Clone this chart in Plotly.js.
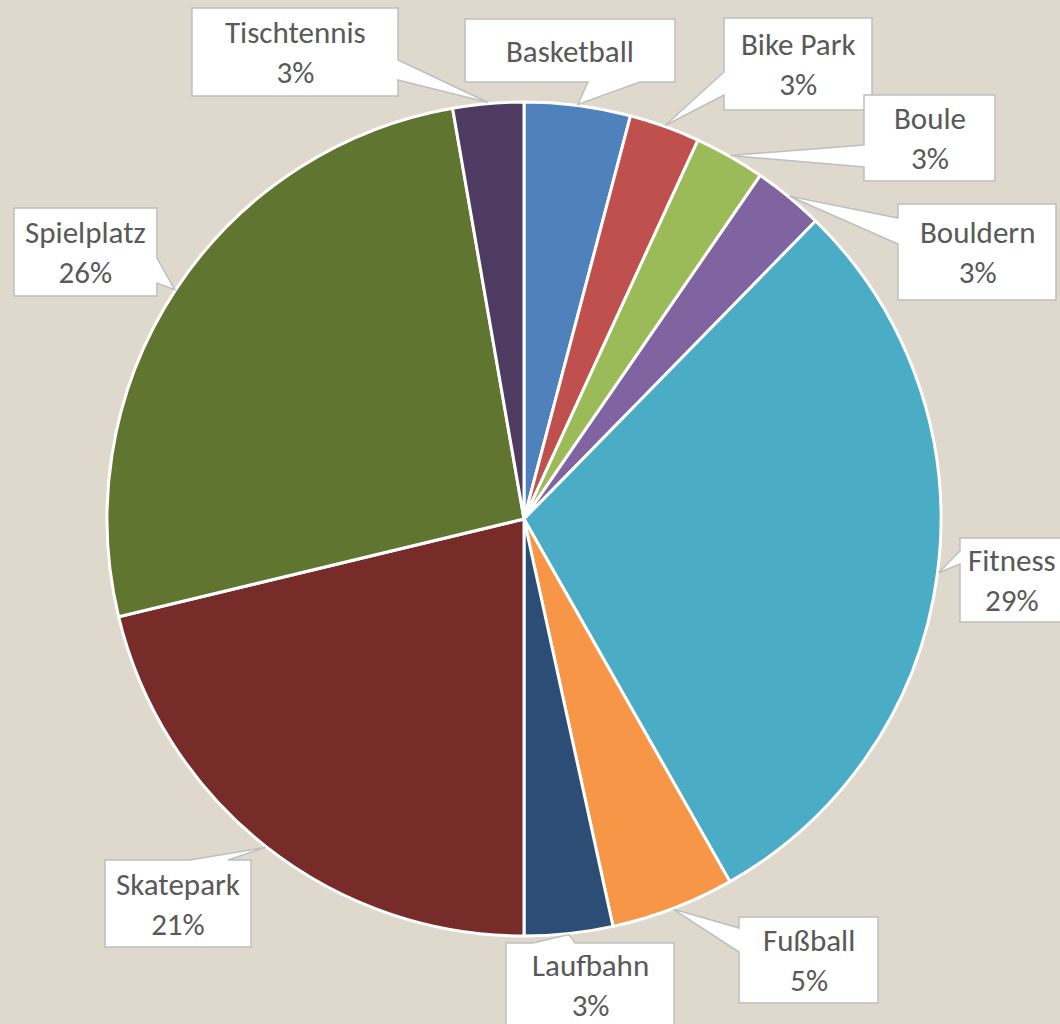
<!DOCTYPE html>
<html>
<head>
<meta charset="utf-8">
<script src="https://cdn.plot.ly/plotly-3.0.1.min.js"></script>
<style>
  html, body { margin: 0; padding: 0; background: #DFD8CC; }
  #chart { width: 1060px; height: 1024px; }
</style>
</head>
<body>
<div id="chart"></div>
<script>
// ---- data ----
const categories = ['Basketball', 'Bike Park', 'Boule', 'Bouldern', 'Fitness', 'Fußball', 'Laufbahn', 'Skatepark', 'Spielplatz', 'Tischtennis'];
const counts = [6, 4, 4, 4, 43, 7, 5, 31, 38, 4];
const showPercent = [false, true, true, true, true, true, true, true, true, true];
const sliceColors = ['#4F81BD', '#C0504D', '#9BBB59', '#8064A2', '#4BACC6', '#F79646', '#2C4D75', '#772C2A', '#5F7530', '#4D3B62'];

// ---- layout geometry (pixels) ----
const W = 1060, H = 1024;
const CX = 524, CY = 519, R = 417;
const px = x => x / W;
const py = y => 1 - y / H;

// label boxes: x0,x1,y0,y1, side where the pointer leaves, pointer base a..c
const boxes = [
  {x0: 465, x1: 675, y0: 19,  y1: 82,   side: 'bottom', a: 588, c: 640},
  {x0: 724, x1: 872, y0: 18,  y1: 110,  side: 'left',   a: 72,  c: 95},
  {x0: 864, x1: 995, y0: 95,  y1: 181,  side: 'left',   a: 145, c: 167},
  {x0: 898, x1: 1056, y0: 204, y1: 300, side: 'left',   a: 218, c: 244},
  {x0: 960, x1: 1075, y0: 538, y1: 622, side: 'left',   a: 551, c: 564},
  {x0: 739, x1: 878, y0: 917, y1: 1003, side: 'left',   a: 928, c: 952},
  {x0: 506, x1: 674, y0: 943, y1: 1026, side: 'top',    a: 533, c: 575},
  {x0: 105, x1: 251, y0: 860, y1: 947,  side: 'top',    a: 190, c: 228},
  {x0: 14,  x1: 157, y0: 208, y1: 296,  side: 'right',  a: 258, c: 283},
  {x0: 192, x1: 398, y0: 8,   y1: 96,   side: 'right',  a: 60,  c: 80}
];

const total = counts.reduce((s, v) => s + v, 0);
let cum = 0;
const shapes = [];
const annotations = [];
counts.forEach((v, i) => {
  const mid = (cum + v / 2) / total;
  cum += v;
  const th = 2 * Math.PI * mid;
  const tip = [CX + (R + 1) * Math.sin(th), CY - (R + 1) * Math.cos(th)];
  const b = boxes[i];
  let pts;
  if (b.side === 'bottom') {
    pts = [[b.x0, b.y0], [b.x1, b.y0], [b.x1, b.y1], [b.c, b.y1], tip, [b.a, b.y1], [b.x0, b.y1]];
  } else if (b.side === 'top') {
    pts = [[b.x0, b.y0], [b.a, b.y0], tip, [b.c, b.y0], [b.x1, b.y0], [b.x1, b.y1 + 10], [b.x0, b.y1 + 10]];
  } else if (b.side === 'left') {
    pts = [[b.x0, b.y0], [b.x1, b.y0], [b.x1, b.y1], [b.x0, b.y1], [b.x0, b.c], tip, [b.x0, b.a]];
  } else {
    pts = [[b.x0, b.y0], [b.x1, b.y0], [b.x1, b.a], tip, [b.x1, b.c], [b.x1, b.y1], [b.x0, b.y1]];
  }
  if (b.side === 'top' && b.y1 < H) {
    pts = [[b.x0, b.y0], [b.a, b.y0], tip, [b.c, b.y0], [b.x1, b.y0], [b.x1, b.y1], [b.x0, b.y1]];
  }
  shapes.push({
    type: 'path', xref: 'paper', yref: 'paper', layer: 'above',
    path: 'M ' + pts.map(p => px(p[0]).toFixed(5) + ',' + py(p[1]).toFixed(5)).join(' L ') + ' Z',
    fillcolor: '#FFFFFF',
    line: {color: '#BFBFBF', width: 1.5}
  });
  const pct = Math.round(v / total * 100);
  annotations.push({
    xref: 'paper', yref: 'paper',
    x: px((b.x0 + Math.min(b.x1, 1064)) / 2), y: py((b.y0 + b.y1) / 2),
    xanchor: 'center', yanchor: 'middle',
    text: categories[i] + (showPercent[i] ? '<br>' + pct + '%' : ''),
    showarrow: false,
    font: {family: 'Calibri, Carlito, Lato, sans-serif', size: 31, color: '#595959'}
  });
});

const trace = {
  type: 'pie',
  labels: categories,
  values: counts,
  sort: false,
  direction: 'clockwise',
  rotation: 0,
  textinfo: 'none',
  hoverinfo: 'label+percent',
  marker: {colors: sliceColors, line: {color: '#FFFFFF', width: 3}},
  domain: {x: [px(CX - R), px(CX + R)], y: [py(CY + R), py(CY - R)]},
  showlegend: false
};

const layout = {
  width: W, height: H,
  margin: {l: 0, r: 0, t: 0, b: 0},
  paper_bgcolor: '#DFD8CC',
  plot_bgcolor: '#DFD8CC',
  showlegend: false,
  shapes: shapes,
  annotations: annotations
};

Plotly.newPlot('chart', [trace], layout, {displayModeBar: false, staticPlot: true});
</script>
</body>
</html>
